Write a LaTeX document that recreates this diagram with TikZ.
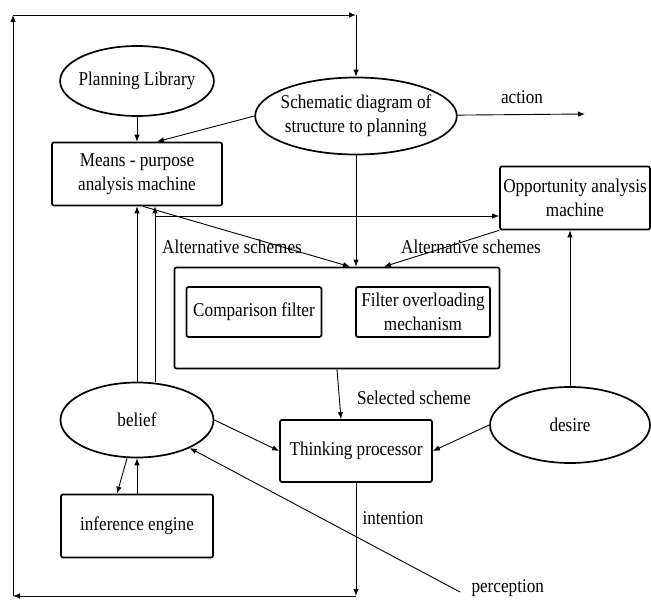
\documentclass[tikz,border=0pt]{standalone}
\usepackage{fontspec}
\setmainfont{Liberation Serif}[FakeStretch=0.88]
\usetikzlibrary{shapes.geometric,arrows.meta,calc}

\begin{document}
\begin{tikzpicture}[x=1pt,y=-1pt,font=\fontsize{19.5}{24}\selectfont]
  \tikzstyle{block} = [draw, line width=1.7pt, rounded corners=2pt, align=center, inner sep=0pt];
  \tikzstyle{oval} = [ellipse, draw, line width=1.7pt, align=center, inner xsep=-4pt, inner ysep=0pt];
  \tikzstyle{arr} = [-{Latex[length=7pt,width=5.5pt]}, line width=0.9pt];

  \useasboundingbox (0,0) rectangle (651,601);

  \node[oval, minimum width=153, minimum height=70] (lib) at (137,81) {Planning Library};
  \node[oval, minimum width=192, minimum height=77] (schem) at (356,116) {Schematic diagram of\\structure to planning};
  \node[block, minimum width=170, minimum height=63] (means) at (137,174) {Means - purpose\\analysis machine};
  \node[block, minimum width=150, minimum height=63] (opp) at (575,198) {Opportunity analysis\\machine};

  \node[block, minimum width=325, minimum height=101] (filt) at (337,318) {};
  \node[block, minimum width=135, minimum height=50] (comp) at (254,312) {Comparison filter};
  \node[block, minimum width=134, minimum height=50] (over) at (423,312) {Filter overloading\\mechanism};

  \node[oval, minimum width=153, minimum height=75] (belief) at (137,420) {belief};
  \node[block, minimum width=152, minimum height=62] (think) at (356,451) {Thinking processor};
  \node[oval, minimum width=160, minimum height=76] (desire) at (570,425) {desire};
  \node[block, minimum width=152, minimum height=63] (infer) at (137,526) {inference engine};

  \coordinate (tl) at (13,15);
  \coordinate (tr) at (356,15);
  \coordinate (bl) at (13,596);
  \coordinate (br) at (356,596);
  \coordinate (act) at (585,114);
  \coordinate (perc) at (460,592);
  \coordinate (fork) at (155,216);

  \node (action) at (522,97) {action};
  \node (alt1) at (232,247) {Alternative schemes};
  \node (alt2) at (471,247) {Alternative schemes};
  \node (sel) at (414,398) {Selected scheme};
  \node (intent) at (393,518) {intention};
  \node[anchor=west] (percept) at (468,588) {perception};

  \draw[arr] (tl) -- (tr);
  \draw[arr] (tr) -- (schem);
  \draw[arr] (bl) -- (tl);
  \draw[arr] (br) -- (bl);
  \draw[arr] (think) -- (br);

  \draw[arr] (schem) -- (act);
  \draw[arr] (lib) -- (means);
  \draw[arr] (schem.west) -- ($(means.north)+(20,0)$);
  \draw[arr] (schem) -- (schem |- filt.north);
  \draw[arr] ($(means.south)+(6,0)$) -- ($(filt.north)+(13,0)$);
  \draw[arr] (opp.south west) -- ($(filt.north)+(47,0)$);
  \draw[arr] (fork) -- (fork -| opp.west);

  \draw[arr] (belief) -- (means);
  \draw[arr] ($(belief.north)+(18,0)$) -- ($(means.south)+(18,0)$);
  \draw[arr] (filt.south) -- ($(think.north)+(-15,0)$);
  \draw[arr] (belief.east) -- (think.west);
  \draw[arr] (desire.west) -- (think.east);
  \draw[arr] (desire) -- (desire |- opp.south);
  \draw[arr] (infer) -- (belief);
  \draw[arr] ($(belief.south)+(-10,0)$) -- ($(infer.north)+(-20,0)$);
  \draw[arr] (perc) -- (belief);

\end{tikzpicture}
\end{document}
